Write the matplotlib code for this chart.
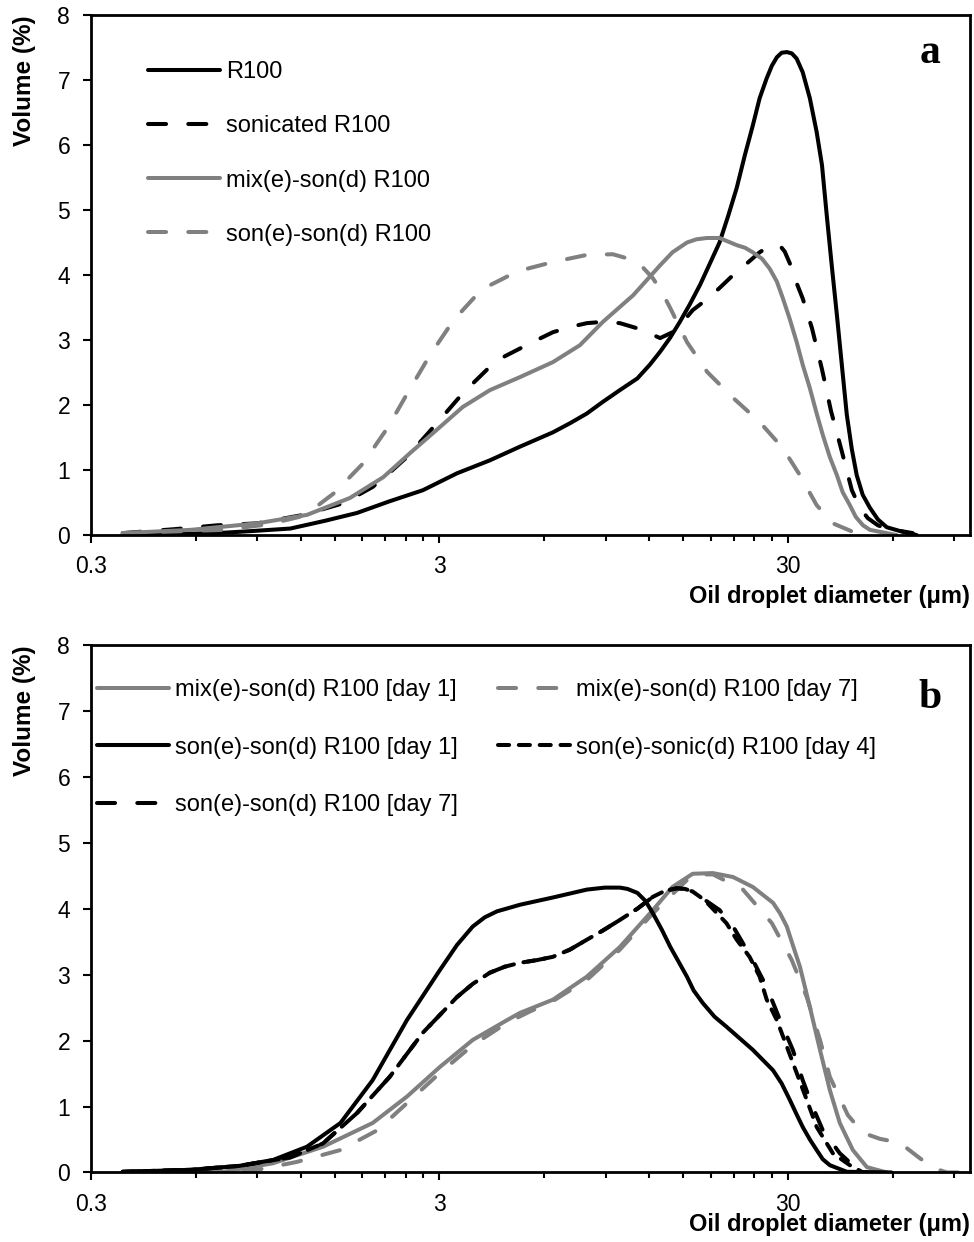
import matplotlib
matplotlib.use("Agg")
import matplotlib.pyplot as plt
from matplotlib.ticker import FixedLocator, FixedFormatter, NullFormatter

plt.rcParams['font.family'] = ['Liberation Sans', 'DejaVu Sans']
plt.rcParams['lines.scale_dashes'] = False

# ---- panel a: droplet size distributions (diameter in um, volume %) ----
r100_d = [0.37, 0.69, 0.86, 1.12, 1.41, 1.74, 2.16, 2.69, 3.37, 4.19, 5.11, 6.35, 7.11,
          7.95, 8.84, 9.89, 11.1, 12.05, 12.9, 13.76, 14.7, 15.7, 16.8, 17.9, 19.1, 20.2,
          21.4, 22.6, 23.8, 24.9, 26.1, 27.0, 27.9, 28.8, 29.8, 30.8, 31.8, 33.1, 34.7,
          36.3, 37.6, 38.8, 40.1, 41.5, 42.9, 44.3, 45.8, 47.3, 49.2, 51.6, 54.4, 57.7,
          64.1, 70.3]
r100_v = [0.0, 0.03, 0.06, 0.10, 0.22, 0.34, 0.52, 0.69, 0.95, 1.15, 1.36, 1.58, 1.72,
          1.87, 2.05, 2.23, 2.41, 2.62, 2.82, 3.03, 3.28, 3.55, 3.85, 4.17, 4.50, 4.90,
          5.34, 5.85, 6.30, 6.72, 7.03, 7.22, 7.35, 7.42, 7.43, 7.41, 7.33, 7.12, 6.72,
          6.20, 5.69, 4.92, 4.15, 3.38, 2.60, 1.85, 1.32, 0.92, 0.62, 0.42, 0.24, 0.12,
          0.05, 0.0]

sonic_d = [0.37, 0.52, 0.69, 0.90, 1.22, 1.59, 1.93, 2.16, 2.42, 2.95, 3.50, 4.19, 4.62,
           5.11, 5.71, 6.35, 7.11, 7.95, 8.84, 9.89, 11.1, 12.3, 12.9, 14.0, 15.0, 16.0,
           17.6, 19.1, 20.9, 22.9, 24.9, 26.1, 27.2, 28.5, 29.4, 30.4, 31.4, 33.1, 35.2,
           37.6, 39.9, 42.9, 45.8, 48.3, 50.9, 54.4, 57.7, 68.5]
sonic_v = [0.03, 0.09, 0.15, 0.18, 0.31, 0.49, 0.74, 0.96, 1.20, 1.72, 2.18, 2.59, 2.75,
           2.87, 3.00, 3.12, 3.20, 3.26, 3.28, 3.26, 3.18, 3.08, 3.03, 3.12, 3.28, 3.46,
           3.63, 3.80, 4.00, 4.18, 4.35, 4.42, 4.45, 4.45, 4.36, 4.18, 3.95, 3.64, 3.18,
           2.55, 1.91, 1.28, 0.69, 0.42, 0.26, 0.15, 0.10, 0.03]

mix_d = [0.37, 0.58, 0.90, 1.25, 1.66, 2.07, 2.47, 2.95, 3.50, 4.19, 5.11, 6.35, 7.59,
         8.84, 10.8, 12.9, 14.0, 15.4, 16.4, 17.6, 19.1, 21.4, 22.6, 23.8, 25.3, 26.6,
         27.9, 29.0, 30.4, 31.8, 33.1, 34.7, 36.3, 37.8, 39.6, 41.5, 43.1, 45.2, 47.0,
         49.3, 51.6, 55.1, 61.6]
mix_v = [0.03, 0.08, 0.18, 0.31, 0.57, 0.89, 1.26, 1.62, 1.97, 2.23, 2.43, 2.66, 2.92,
         3.28, 3.69, 4.15, 4.35, 4.50, 4.55, 4.57, 4.57, 4.46, 4.42, 4.35, 4.25, 4.10,
         3.90, 3.65, 3.32, 2.97, 2.62, 2.26, 1.87, 1.54, 1.20, 0.92, 0.66, 0.46, 0.28,
         0.15, 0.08, 0.05, 0.0]

son_d = [0.37, 0.72, 0.92, 1.05, 1.19, 1.34, 1.50, 1.81, 2.13, 2.44, 2.82, 3.30, 3.97,
         5.04, 6.35, 7.95, 9.44, 10.8, 11.5, 12.3, 13.05, 13.8, 15.4, 17.6, 20.9, 24.9,
         29.0, 32.5, 36.3, 40.4, 46.1, 51.6]
son_v = [0.03, 0.08, 0.15, 0.21, 0.28, 0.45, 0.65, 1.10, 1.65, 2.20, 2.77, 3.31, 3.78,
         4.06, 4.20, 4.31, 4.32, 4.23, 4.12, 3.95, 3.74, 3.49, 2.97, 2.51, 2.11, 1.74,
         1.34, 0.92, 0.46, 0.18, 0.05, 0.0]

# ---- panel b: storage ----
mix1_d = [0.37, 0.72, 1.00, 1.39, 1.93, 2.42, 3.01, 3.74, 4.69, 5.11, 6.35, 7.95, 9.89,
          12.3, 14.0, 16.0, 18.3, 20.9, 23.8, 27.2, 28.5, 29.8, 31.0, 32.5, 34.7, 37.1,
          39.6, 42.3, 46.1, 50.6, 57.7]
mix1_v = [0.0, 0.01, 0.14, 0.39, 0.75, 1.15, 1.60, 2.01, 2.31, 2.42, 2.62, 2.97, 3.42,
          3.98, 4.33, 4.53, 4.54, 4.48, 4.33, 4.09, 3.93, 3.73, 3.45, 3.12, 2.51, 1.86,
          1.25, 0.75, 0.34, 0.08, 0.0]

mix7_d = [0.37, 0.90, 1.17, 1.56, 1.99, 2.42, 3.01, 3.74, 4.69, 5.45, 6.35, 7.95, 9.89,
          12.3, 16.0, 18.3, 22.3, 27.0, 30.8, 34.0, 37.1, 39.6, 44.6, 49.3, 55.1, 62.9,
          70.8, 78.2, 85.8, 100]
mix7_v = [0.0, 0.04, 0.16, 0.34, 0.64, 1.05, 1.51, 1.93, 2.27, 2.44, 2.60, 2.92, 3.38,
          3.93, 4.52, 4.52, 4.29, 3.78, 3.22, 2.66, 2.01, 1.45, 0.87, 0.60, 0.51, 0.45,
          0.24, 0.07, 0.0, 0.0]

son1_d = [0.37, 0.58, 0.80, 1.00, 1.25, 1.56, 1.93, 2.42, 3.01, 3.37, 3.74, 4.05, 4.39,
          5.11, 6.35, 7.95, 8.95, 9.89, 10.4, 11.1, 11.7, 12.3, 13.05, 13.8, 15.4, 16.1,
          17.1, 18.5, 20.0, 23.8, 27.2, 28.8, 30.4, 31.8, 33.1, 34.7, 36.3, 37.8, 39.6,
          44.3, 59.5]
son1_v = [0.01, 0.04, 0.10, 0.19, 0.39, 0.75, 1.40, 2.31, 3.07, 3.45, 3.73, 3.87, 3.96,
          4.06, 4.17, 4.29, 4.32, 4.32, 4.30, 4.24, 4.12, 3.93, 3.68, 3.42, 2.97, 2.76,
          2.57, 2.36, 2.21, 1.86, 1.55, 1.35, 1.10, 0.88, 0.69, 0.50, 0.34, 0.20, 0.11,
          0.01, 0.0]

son4_d = [0.37, 0.58, 0.80, 1.12, 1.39, 1.74, 2.16, 2.69, 3.37, 3.74, 4.19, 4.62, 5.11,
          5.71, 6.35, 7.11, 7.95, 8.84, 9.89, 11.1, 12.3, 13.3, 14.4, 15.2, 16.0, 16.8,
          17.6, 20.0, 21.4, 23.3, 24.9, 26.1, 27.9, 29.8, 31.8, 34.0, 36.3, 40.4, 45.2,
          49.3]
son4_v = [0.01, 0.04, 0.10, 0.23, 0.44, 0.90, 1.45, 2.12, 2.66, 2.86, 3.03, 3.12, 3.18,
          3.22, 3.27, 3.38, 3.53, 3.67, 3.83, 4.00, 4.18, 4.27, 4.31, 4.30, 4.26, 4.18,
          4.09, 3.78, 3.53, 3.27, 2.97, 2.62, 2.31, 1.91, 1.51, 1.10, 0.69, 0.29, 0.11,
          0.0]

son7_d = [0.37, 0.58, 0.80, 1.12, 1.39, 1.74, 2.16, 2.69, 3.37, 3.74, 4.19, 4.62, 5.11,
          5.71, 6.35, 7.11, 7.95, 8.84, 9.89, 11.1, 12.3, 13.3, 14.4, 15.2, 16.0, 19.1,
          20.9, 23.8, 26.1, 28.5, 31.0, 33.1, 35.4, 37.8, 42.3, 46.1, 50.6]
son7_v = [0.01, 0.04, 0.10, 0.23, 0.44, 0.90, 1.45, 2.12, 2.66, 2.86, 3.03, 3.12, 3.18,
          3.22, 3.27, 3.38, 3.53, 3.67, 3.83, 4.00, 4.18, 4.27, 4.31, 4.30, 4.26, 3.98,
          3.73, 3.22, 2.81, 2.31, 1.86, 1.40, 0.99, 0.64, 0.29, 0.11, 0.0]

major_ticks = [0.3, 3, 30]
major_labels = ['0.3', '3', '30']
minor_ticks = [b * k for b in (0.3, 3, 30) for k in range(2, 10) if b * k <= 100]

GREY = '#808080'
LW = 2.9
LONG = (13, 16)
SHORT = (8, 7)


def style(ax, xlab_y):
    ax.set_xscale('log')
    ax.set_xlim(0.3, 100)
    ax.set_ylim(0, 8)
    ax.xaxis.set_major_locator(FixedLocator(major_ticks))
    ax.xaxis.set_major_formatter(FixedFormatter(major_labels))
    ax.xaxis.set_minor_locator(FixedLocator(minor_ticks))
    ax.xaxis.set_minor_formatter(NullFormatter())
    ax.set_yticks(range(9))
    ax.tick_params(axis='both', which='major', direction='out', length=6, width=1.5,
                   labelsize=16.5)
    ax.tick_params(axis='x', which='minor', direction='out', length=4.5, width=1.5)
    ax.tick_params(axis='y', pad=9)
    ax.tick_params(axis='x', pad=8.5)
    for s in ax.spines.values():
        s.set_linewidth(2)
    ax.set_xlabel('Oil droplet diameter (μm)', fontweight='bold', fontsize=17, loc='right')
    ax.xaxis.label.set_va('center')
    ax.xaxis.set_label_coords(1.0, xlab_y)
    ax.set_ylabel('Volume (%)', fontweight='bold', fontsize=17.5, loc='top')
    ax.yaxis.set_label_coords(-0.063, 1.0)


fig = plt.figure(figsize=(9.74, 12.42), dpi=100)
ax1 = fig.add_axes([0.0934, 0.5692, 0.9025, 0.4187])
ax2 = fig.add_axes([0.0934, 0.0560, 0.9025, 0.4247])

# panel a
ax1.plot(r100_d, r100_v, color='black', lw=LW, solid_capstyle='round',
         solid_joinstyle='round', label='R100')
ax1.plot(sonic_d, sonic_v, color='black', lw=LW, dashes=LONG, dash_capstyle='round',
         label='sonicated R100')
ax1.plot(mix_d, mix_v, color=GREY, lw=LW, solid_capstyle='round', solid_joinstyle='round',
         label='mix(e)-son(d) R100')
ax1.plot(son_d, son_v, color=GREY, lw=LW, dashes=LONG, dash_capstyle='round',
         label='son(e)-son(d) R100')
style(ax1, -0.119)
ax1.legend(loc='upper left', bbox_to_anchor=(0.065, 0.911), frameon=False, fontsize=17,
           handlelength=3.05, handletextpad=0.25, labelspacing=1.36, borderpad=0,
           borderaxespad=0)
ax1.text(0.9545, 0.908, 'a', transform=ax1.transAxes, ha='center', va='baseline',
         family='Liberation Serif', fontweight='bold', fontsize=30)

# panel b
l1, = ax2.plot(mix1_d, mix1_v, color=GREY, lw=LW, solid_capstyle='round',
               solid_joinstyle='round', label='mix(e)-son(d) R100 [day 1]')
l2, = ax2.plot(mix7_d, mix7_v, color=GREY, lw=LW, dashes=LONG, dash_capstyle='round',
               label='mix(e)-son(d) R100 [day 7]')
l3, = ax2.plot(son1_d, son1_v, color='black', lw=LW, solid_capstyle='round',
               solid_joinstyle='round', label='son(e)-son(d) R100 [day 1]')
l4, = ax2.plot(son4_d, son4_v, color='black', lw=LW, dashes=SHORT, dash_capstyle='round',
               label='son(e)-sonic(d) R100 [day 4]')
l5, = ax2.plot(son7_d, son7_v, color='black', lw=LW, dashes=LONG, dash_capstyle='round',
               label='son(e)-son(d) R100 [day 7]')
style(ax2, -0.0995)
ax2.legend(handles=[l1, l3, l5, l2, l4], ncol=2, loc='upper left',
           bbox_to_anchor=(0.007, 0.935), frameon=False, fontsize=17,
           handlelength=3.05, handletextpad=0.25, labelspacing=1.5, columnspacing=1.7,
           borderpad=0, borderaxespad=0)
ax2.text(0.9545, 0.881, 'b', transform=ax2.transAxes, ha='center', va='baseline',
         family='Liberation Serif', fontweight='bold', fontsize=30)

fig.savefig('out.png', dpi=100)
